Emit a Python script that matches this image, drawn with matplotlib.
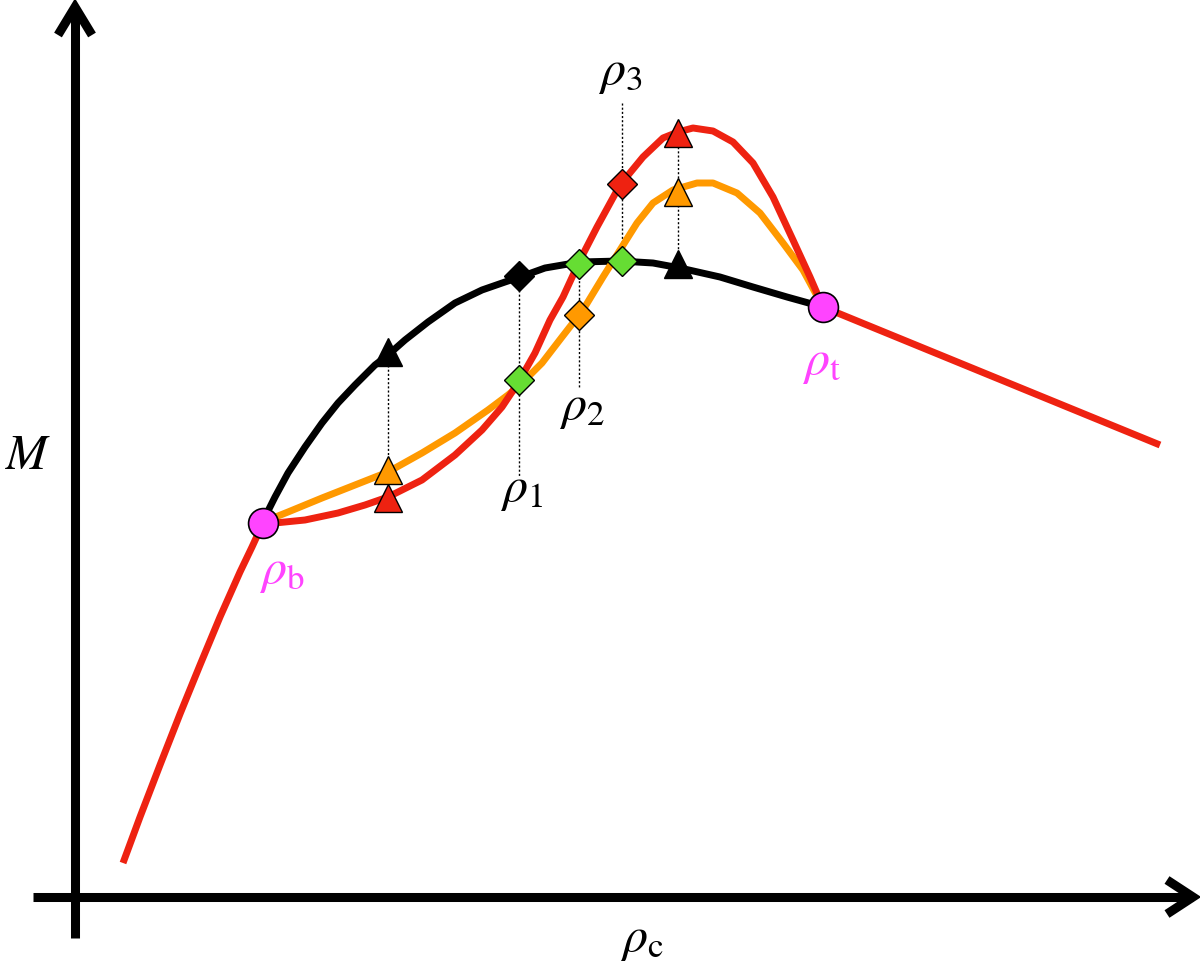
import matplotlib
matplotlib.use('Agg')
from matplotlib import pyplot as plt

plt.rcParams['mathtext.fontset'] = 'stix'
plt.rcParams['font.family'] = ['Liberation Serif', 'DejaVu Serif']

# Kurven in Bildkoordinaten (x nach rechts, y nach unten)
rot_links_x = [123, 140, 160, 180, 200, 220, 240, 252, 263]
rot_links_y = [863, 817, 765, 714, 665, 617, 572, 547, 523]

rot_x = [263, 275, 305, 338, 365, 388, 422, 455, 482, 502, 518, 535, 550, 563, 580, 597, 620, 643, 663, 678, 693, 713, 733, 753, 773, 793, 810, 823]
rot_y = [523, 523, 520, 513, 505, 497, 480, 455, 430, 407, 383, 353, 320, 297, 260, 227, 185, 157, 138, 132, 128, 131, 142, 163, 197, 240, 277, 307]

orange_x = [263, 268, 288, 322, 355, 388, 422, 455, 488, 508, 520, 542, 562, 583, 603, 620, 637, 653, 673, 697, 713, 737, 760, 783, 803, 823]
orange_y = [523, 520, 512, 498, 485, 472, 453, 433, 410, 395, 385, 363, 337, 310, 277, 250, 223, 203, 190, 183, 183, 193, 213, 243, 270, 307]

schwarz_x = [263, 265, 275, 288, 305, 322, 338, 355, 375, 388, 405, 428, 455, 482, 505, 520, 545, 580, 620, 653, 680, 720, 753, 787, 823]
schwarz_y = [523, 517, 497, 473, 447, 423, 403, 385, 365, 355, 340, 322, 303, 290, 282, 277, 268, 262, 261, 263, 268, 277, 287, 297, 307]

rot_rechts_x = [823, 1160]
rot_rechts_y = [307, 445]

# Punkte
rho_bt_x = [263, 823]
rho_bt_y = [523, 307]

dreieck_x = [388, 388, 678, 678]
dreieck_y = [498, 470, 133, 192]
dreieck_farbe = ['#EE2211', '#FF9900', '#EE2211', '#FF9900']

schwarz_dreieck_x = [388, 678]
schwarz_dreieck_y = [352, 264]

raute_x = [519, 579, 622, 579, 622, 519]
raute_y = [276, 264, 261, 315, 184, 380]
raute_farbe = ['black', '#66DD33', '#66DD33', '#FF9900', '#EE2211', '#66DD33']

# gepunktete Hilfslinien
linie_x = [388, 519, 579, 622, 678]
linie_oben = [365, 290, 264, 103, 130]
linie_unten = [462, 476, 388, 261, 264]

beschriftung = [r'$\rho_1$', r'$\rho_2$', r'$\rho_3$']
beschriftung_x = [522, 582, 620]
beschriftung_y = [490, 408, 73]

fig = plt.figure(figsize=(12, 9.71), dpi=100)
ax = fig.add_axes([0, 0, 1, 1])
ax.set_xlim(0, 1200)
ax.set_ylim(971, 0)
ax.axis('off')

# Achsen mit Pfeilen
ax.plot([75, 75], [938, 7], color='black', lw=6.5, solid_capstyle='butt')
ax.plot([58, 75, 92], [35, 7, 35], color='black', lw=6.5, solid_joinstyle='miter', solid_capstyle='butt')
ax.plot([33, 1193], [897, 897], color='black', lw=6.5, solid_capstyle='butt')
ax.plot([1167, 1193, 1167], [880, 897, 914], color='black', lw=6.5, solid_joinstyle='miter', solid_capstyle='butt')

for i in range(len(linie_x)):
    ax.plot([linie_x[i], linie_x[i]], [linie_oben[i], linie_unten[i]], color='black', lw=1.0,
            linestyle=(0, (1.5, 1.5)), zorder=1)

ax.plot(schwarz_x, schwarz_y, color='black', lw=5, solid_capstyle='round', zorder=2)
ax.plot(orange_x, orange_y, color='#FF9900', lw=5, solid_capstyle='round', zorder=3)
ax.plot(rot_x, rot_y, color='#EE2211', lw=5, solid_capstyle='round', zorder=4)
ax.plot(rot_links_x, rot_links_y, color='#EE2211', lw=5, solid_capstyle='butt', zorder=4)
ax.plot(rot_rechts_x, rot_rechts_y, color='#EE2211', lw=5, solid_capstyle='butt', zorder=4)

for i in range(len(dreieck_x)):
    ax.plot(dreieck_x[i], dreieck_y[i], marker='^', ms=20, mfc=dreieck_farbe[i], mec='black', mew=1, zorder=6)
ax.plot(schwarz_dreieck_x, schwarz_dreieck_y, linestyle='none', marker='^', ms=20, mfc='black', mec='black', zorder=6)
for i in range(len(raute_x)):
    ax.plot(raute_x[i], raute_y[i], marker='D', ms=15.5, mfc=raute_farbe[i], mec='black', mew=1, zorder=6)
ax.plot(rho_bt_x, rho_bt_y, linestyle='none', marker='o', ms=21.5, mfc='#FF44FF', mec='black', mew=1.2, zorder=7)

for i in range(len(beschriftung)):
    ax.text(beschriftung_x[i], beschriftung_y[i], beschriftung[i], fontsize=36, ha='center', va='center')
ax.text(282, 572, r'$\rho_\mathrm{b}$', fontsize=36, ha='center', va='center', color='#FF44FF')
ax.text(822, 363, r'$\rho_\mathrm{t}$', fontsize=36, ha='center', va='center', color='#FF44FF')
ax.text(28, 457, r'$M$', fontsize=36, ha='center', va='center')
ax.text(642, 940, r'$\rho_\mathrm{c}$', fontsize=36, ha='center', va='center')

plt.savefig('out.png', dpi=100)
